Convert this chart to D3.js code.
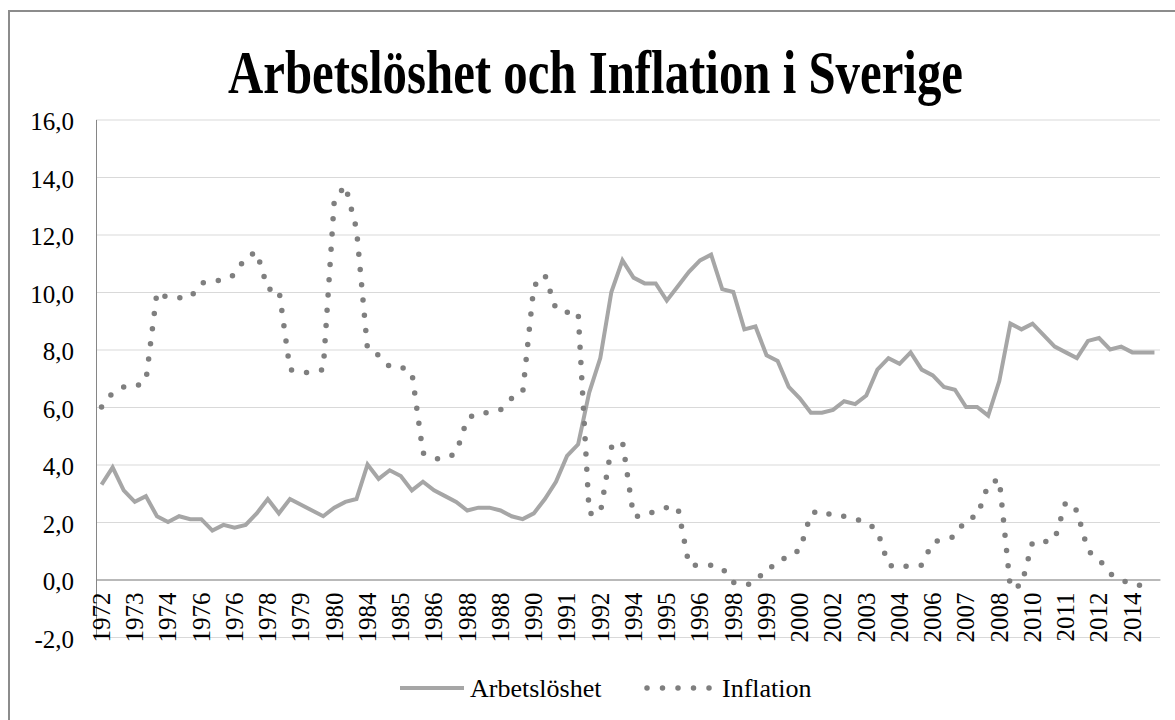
<!DOCTYPE html>
<html>
<head>
<meta charset="utf-8">
<script src="https://cdn.jsdelivr.net/npm/d3@7"></script>
<style>
  html, body { margin: 0; padding: 0; background: #fff; overflow: hidden; }
  svg { display: block; }
  svg text { font-family: "Liberation Serif", "Times New Roman", Times, serif !important; fill: #000; }
</style>
</head>
<body>
<div class="chart"></div>
<script>
const tickLabels = ['1972', '1973', '1974', '1976', '1976', '1978', '1979', '1980', '1984', '1985',
  '1986', '1988', '1988', '1990', '1991', '1992', '1994', '1995', '1996', '1998', '1999', '2000',
  '2002', '2003', '2004', '2006', '2007', '2008', '2010', '2011', '2012', '2014'];

const arbetsloshet = [3.3, 3.9, 3.1, 2.7, 2.9, 2.2, 2.0, 2.2, 2.1, 2.1, 1.7, 1.9, 1.8, 1.9, 2.3, 2.8,
  2.3, 2.8, 2.6, 2.4, 2.2, 2.5, 2.7, 2.8, 4.0, 3.5, 3.8, 3.6, 3.1, 3.4, 3.1, 2.9,
  2.7, 2.4, 2.5, 2.5, 2.4, 2.2, 2.1, 2.3, 2.8, 3.4, 4.3, 4.7, 6.5, 7.7, 10.0, 11.1,
  10.5, 10.3, 10.3, 9.7, 10.2, 10.7, 11.1, 11.3, 10.1, 10.0, 8.7, 8.8, 7.8, 7.6, 6.7, 6.3,
  5.8, 5.8, 5.9, 6.2, 6.1, 6.4, 7.3, 7.7, 7.5, 7.9, 7.3, 7.1, 6.7, 6.6, 6.0, 6.0,
  5.7, 6.9, 8.9, 8.7, 8.9, 8.5, 8.1, 7.9, 7.7, 8.3, 8.4, 8.0, 8.1, 7.9, 7.9, 7.9];

const inflation = [6.0, 6.5, 6.7, 6.7, 6.9, 10.0, 9.8, 9.8, 9.8, 10.3, 10.4, 10.4, 10.6, 11.2, 11.4, 10.1,
  10.1, 7.3, 7.2, 7.2, 7.3, 13.2, 13.7, 12.2, 8.0, 7.8, 7.4, 7.4, 7.2, 4.4, 4.2, 4.2,
  4.4, 5.6, 5.8, 5.8, 5.9, 6.3, 6.5, 10.2, 10.6, 9.4, 9.3, 9.3, 2.3, 2.3, 4.6, 4.8,
  2.2, 2.2, 2.4, 2.5, 2.5, 0.5, 0.5, 0.5, 0.4, -0.1, -0.2, -0.1, 0.4, 0.5, 0.9, 1.0,
  2.3, 2.4, 2.2, 2.2, 2.1, 2.0, 1.7, 0.5, 0.4, 0.5, 0.5, 1.3, 1.4, 1.5, 2.1, 2.2,
  3.3, 3.5, -0.3, -0.2, 1.3, 1.3, 1.4, 2.7, 2.4, 1.0, 0.7, 0.2, 0.0, -0.2, -0.2, -0.2];

const yTicks = [-2, 0, 2, 4, 6, 8, 10, 12, 14, 16];
const labelStep = 3;
const serif = '"Liberation Serif", "Times New Roman", serif';

function drawChart() {
  const w = 1175;
  const h = 720;
  const padding = { top: 119.5, right: 15, bottom: 83, left: 96 };

  const svg = d3.select('.chart')
    .append('svg')
    .attr('width', w)
    .attr('height', h);

  // chart frame: only the left and top edges show in the picture
  svg.append('path')
    .attr('d', `M9,${h} V11 H${w}`)
    .attr('fill', 'none')
    .attr('stroke', '#8c8c8c')
    .attr('stroke-width', 2);

  const xScale = d3.scaleBand()
    .domain(d3.range(arbetsloshet.length))
    .range([padding.left, w - padding.right])
    .padding(0);
  const xPos = (i) => xScale(i) + xScale.bandwidth() / 2;

  const yScale = d3.scaleLinear()
    .domain([-2, 16])
    .range([h - padding.bottom, padding.top]);

  // gridlines
  svg.append('g')
    .attr('class', 'grid')
    .attr('transform', `translate(${padding.left}, 0)`)
    .call(d3.axisLeft(yScale).tickValues(yTicks).tickSize(-(w - padding.right - padding.left)).tickFormat(''))
    .call((g) => g.select('.domain').remove())
    .call((g) => g.selectAll('line').attr('stroke', '#d9d9d9').attr('stroke-width', 1));

  // y labels
  svg.append('g')
    .attr('class', 'y-axis')
    .attr('transform', `translate(${padding.left}, 0)`)
    .attr('font-family', serif)
    .call(d3.axisLeft(yScale).tickValues(yTicks).tickSize(0).tickPadding(22)
      .tickFormat((d) => d3.format('.1f')(d).replace('.', ',').replace('−', '-')))
    .call((g) => g.select('.domain').attr('stroke', '#868686'))
    .call((g) => g.selectAll('text')
      .style('font-family', serif)
      .style('font-size', '25px')
      .attr('dy', '0.4em'));

  // category axis crossing at 0
  const xAxis = svg.append('g')
    .attr('class', 'x-axis')
    .attr('transform', `translate(0, ${yScale(0)})`)
    .call(d3.axisBottom(xScale).tickSize(0).tickSizeOuter(0)
      .tickValues(d3.range(0, arbetsloshet.length, labelStep))
      .tickFormat((d) => tickLabels[d / labelStep]));
  xAxis.attr('font-family', serif);
  xAxis.select('.domain').attr('stroke', '#868686');
  xAxis.selectAll('text')
    .style('font-family', serif)
    .style('font-size', '25px')
    .attr('text-anchor', 'end')
    .attr('transform', 'rotate(-90)')
    .attr('x', -13)
    .attr('y', 0)
    .attr('dy', '0.33em');

  const line = d3.line()
    .x((d, i) => xPos(i))
    .y((d) => yScale(d));

  svg.append('path')
    .datum(arbetsloshet)
    .attr('d', line)
    .attr('fill', 'none')
    .attr('stroke', '#a6a6a6')
    .attr('stroke-width', 4)
    .attr('stroke-linejoin', 'miter');

  svg.append('path')
    .datum(inflation)
    .attr('d', line)
    .attr('fill', 'none')
    .attr('stroke', '#7f7f7f')
    .attr('stroke-width', 5.5)
    .attr('stroke-linecap', 'round')
    .attr('stroke-dasharray', '0 15.3');

  // title
  svg.append('text')
    .attr('x', 228)
    .attr('y', 93)
    .style('font-family', serif)
    .style('font-size', '62px')
    .style('font-weight', 'bold')
    .attr('textLength', 735)
    .attr('lengthAdjust', 'spacingAndGlyphs')
    .text('Arbetslöshet och Inflation i Sverige');

  // legend
  const legend = svg.append('g').attr('class', 'legend');
  legend.append('line')
    .attr('x1', 400).attr('x2', 464)
    .attr('y1', 688).attr('y2', 688)
    .attr('stroke', '#a6a6a6')
    .attr('stroke-width', 4);
  legend.append('text')
    .attr('x', 470)
    .attr('y', 697)
    .style('font-family', serif)
    .style('font-size', '26px')
    .text('Arbetslöshet');
  legend.append('line')
    .attr('x1', 647).attr('x2', 711)
    .attr('y1', 688).attr('y2', 688)
    .attr('stroke', '#7f7f7f')
    .attr('stroke-width', 5.5)
    .attr('stroke-linecap', 'round')
    .attr('stroke-dasharray', '0 15.5');
  legend.append('text')
    .attr('x', 722)
    .attr('y', 697)
    .style('font-family', serif)
    .style('font-size', '26px')
    .text('Inflation');
}

drawChart();
</script>
</body>
</html>
